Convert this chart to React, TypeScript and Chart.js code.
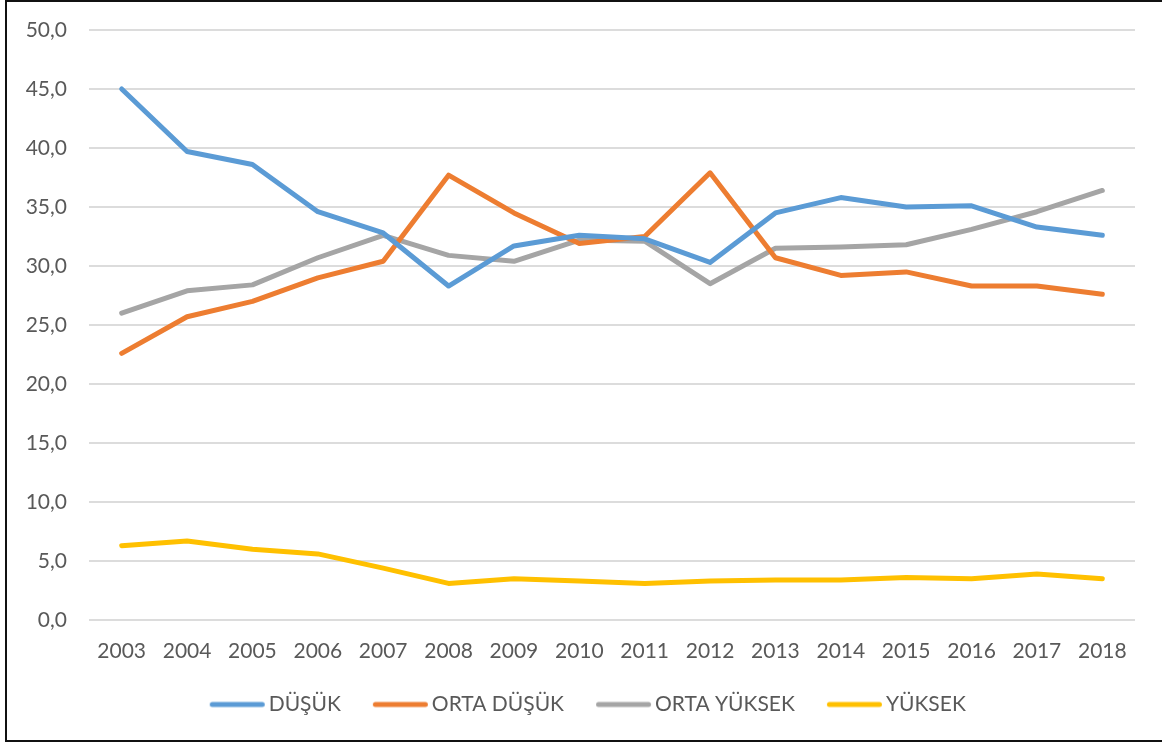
import React, { useEffect, useRef } from "react";
import { Chart, registerables } from "chart.js";

Chart.register(...registerables);

const years = ["2003", "2004", "2005", "2006", "2007", "2008", "2009", "2010", "2011", "2012", "2013", "2014", "2015", "2016", "2017", "2018"];
const dusuk = [45.0, 39.7, 38.6, 34.6, 32.8, 28.3, 31.7, 32.6, 32.3, 30.3, 34.5, 35.8, 35.0, 35.1, 33.3, 32.6];
const ortaDusuk = [22.6, 25.7, 27.0, 29.0, 30.4, 37.7, 34.5, 31.9, 32.5, 37.9, 30.7, 29.2, 29.5, 28.3, 28.3, 27.6];
const ortaYuksek = [26.0, 27.9, 28.4, 30.7, 32.6, 30.9, 30.4, 32.2, 32.1, 28.5, 31.5, 31.6, 31.8, 33.1, 34.6, 36.4];
const yuksek = [6.3, 6.7, 6.0, 5.6, 4.4, 3.1, 3.5, 3.3, 3.1, 3.3, 3.4, 3.4, 3.6, 3.5, 3.9, 3.5];
const seriesNames = ["DÜŞÜK", "ORTA DÜŞÜK", "ORTA YÜKSEK", "YÜKSEK"];
const seriesColors = ["#5B9BD5", "#ED7D31", "#A5A5A5", "#FFC000"];

const FONT = "Lato, 'Open Sans', sans-serif";
const TEXT = "#595959";

function legendLine(color: string): HTMLCanvasElement {
  const c = document.createElement("canvas");
  c.width = 70;
  c.height = 10;
  const ctx = c.getContext("2d")!;
  ctx.strokeStyle = color;
  ctx.lineWidth = 5;
  ctx.lineCap = "round";
  ctx.beginPath();
  ctx.moveTo(6.5, 5);
  ctx.lineTo(56.5, 5);
  ctx.stroke();
  return c;
}

const legendShift = {
  id: "legendShift",
  afterLayout(chart: any) {
    const lg = chart.legend;
    if (!lg) return;
    lg.left += 27;
    lg.right += 27;
    lg.top -= 16.5;
    lg.bottom -= 16.5;
  },
};

export default function App() {
  const ref = useRef<HTMLCanvasElement | null>(null);
  useEffect(() => {
    if (!ref.current) return;
    const all = [dusuk, ortaDusuk, ortaYuksek, yuksek];
    const chart = new Chart(ref.current, {
      type: "line",
      data: {
        labels: years,
        datasets: all.map((d, i) => ({
          label: seriesNames[i],
          data: d,
          borderColor: seriesColors[i],
          backgroundColor: seriesColors[i],
          borderWidth: 5,
          borderCapStyle: "round",
          borderJoinStyle: "round",
          pointRadius: 0,
          pointStyle: legendLine(seriesColors[i]),
          tension: 0,
          fill: false,
        })),
      },
      plugins: [legendShift],
      options: {
        responsive: false,
        animation: false,
        devicePixelRatio: 1,
        layout: { padding: { left: 0, right: 27, top: 30, bottom: 0.5 } },
        plugins: {
          tooltip: { enabled: false },
          legend: {
            position: "bottom",
            labels: {
              usePointStyle: true,
              pointStyleWidth: 35,
              boxHeight: 5,
              color: TEXT,
              font: { family: FONT, size: 21 },
              padding: 45.5,
            },
          },
        },
        scales: {
          x: {
            offset: true,
            grid: { display: false },
            border: { display: false },
            ticks: { color: TEXT, font: { family: FONT, size: 21 }, padding: 11, maxRotation: 0 },
            afterFit: (s: any) => {
              s.height = 45;
            },
          },
          y: {
            min: 0,
            max: 50,
            border: { display: false },
            grid: { color: "#dcdcdc", lineWidth: 2, drawTicks: false },
            ticks: {
              stepSize: 5,
              color: TEXT,
              font: { family: FONT, size: 21 },
              padding: 22,
              callback: (v: any) => Number(v).toFixed(1).replace(".", ","),
            },
            afterFit: (s: any) => {
              s.width = 89;
              s.paddingTop = 0;
              s.paddingBottom = 0;
            },
          },
        },
      },
    } as any);
    return () => chart.destroy();
  }, []);
  return (
    <div style={{ position: "fixed", left: 0, top: 0, width: 1162, height: 742, background: "#fff", overflow: "hidden" }}>
      <canvas ref={ref} width={1162} height={742} style={{ position: "absolute", left: 0, top: 0, width: 1162, height: 742 }} />
      <div
        style={{
          position: "absolute",
          left: 5,
          top: 0,
          width: 1180,
          height: 742,
          border: "2px solid #111",
          boxSizing: "border-box",
          pointerEvents: "none",
        }}
      />
    </div>
  );
}
